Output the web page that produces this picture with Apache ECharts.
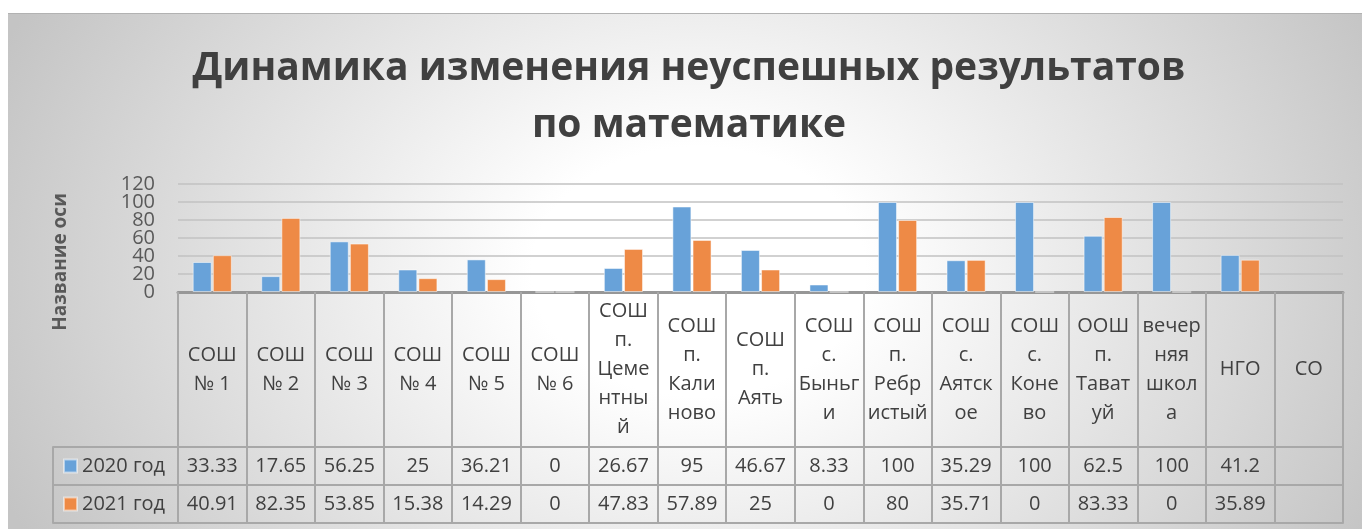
<!DOCTYPE html>
<html>
<head>
<meta charset="utf-8">
<script src="https://cdn.jsdelivr.net/npm/echarts@6/dist/echarts.min.js"></script>
<style>
  html, body { margin: 0; padding: 0; background: #ffffff; overflow: hidden; }
  #bg { position: absolute; left: 8px; top: 13px; width: 1354px; height: 516px;
        background: radial-gradient(ellipse 56% 110% at 51% 50%, #ffffff 0%, #ffffff 22%, #c4c4c4 100%);
        border-top: 1px solid #b2b2b2; box-sizing: border-box; }
  #chart { position: absolute; left: 0; top: 0; width: 1362px; height: 531px; }
</style>
</head>
<body>
<div id="bg"></div>
<div id="chart"></div>
<script>
const titleText = 'Динамика изменения неуспешных результатов\nпо математике';
const axisName = 'Название оси';
const seriesNames = ['2020 год', '2021 год'];
const categories = [
  'СОШ\n№ 1', 'СОШ\n№ 2', 'СОШ\n№ 3', 'СОШ\n№ 4', 'СОШ\n№ 5', 'СОШ\n№ 6',
  'СОШ\nп.\nЦеме\nнтны\nй', 'СОШ\nп.\nКали\nново', 'СОШ\nп.\nАять',
  'СОШ\nс.\nБыньг\nи', 'СОШ\nп.\nРебр\nистый', 'СОШ\nс.\nАятск\nое',
  'СОШ\nс.\nКоне\nво', 'ООШ\nп.\nТават\nуй', 'вечер\nняя\nшкол\nа', 'НГО', 'СО'
];
const values2020 = [33.33, 17.65, 56.25, 25, 36.21, 0, 26.67, 95, 46.67, 8.33, 100, 35.29, 100, 62.5, 100, 41.2, null];
const values2021 = [40.91, 82.35, 53.85, 15.38, 14.29, 0, 47.83, 57.89, 25, 0, 80, 35.71, 0, 83.33, 0, 35.89, null];
const yMin = 0, yMax = 120, yStep = 20;

const FONT = 'Open Sans';
const TEXT = '#404040';
const LINE = '#a8a8a8';
const BLUE = '#68a2d9';
const ORANGE = '#ee8a46';

// layout
const plotLeft = 178, plotRight = 19, plotTop = 184, plotBottomY = 292;
const headerH = 155, rowH = 38;
const legendColLeft = 53;

const fmt = v => (v === null || v === undefined) ? '' : String(v);
const yLabelStyle = { margin: 23, fontFamily: FONT, fontSize: 20, color: '#595959' };
const tableLine = { show: true, onZero: false, lineStyle: { color: LINE, width: 2 } };

const chart = echarts.init(document.getElementById('chart'), null, { renderer: 'canvas' });

chart.setOption({
  backgroundColor: 'transparent',
  animation: false,
  textStyle: { fontFamily: FONT },
  title: {
    text: titleText,
    left: 689,
    textAlign: 'center',
    top: 40,
    padding: 0,
    textStyle: { fontFamily: FONT, fontSize: 39, fontWeight: 'bold', color: TEXT, lineHeight: 57 }
  },
  legend: {
    orient: 'vertical',
    left: 63,
    top: plotBottomY + headerH + 9,
    padding: 0,
    itemWidth: 13,
    itemHeight: 13,
    itemGap: 18,
    icon: 'rect',
    selectedMode: false,
    data: seriesNames,
    textStyle: { fontFamily: FONT, fontSize: 20, color: TEXT, lineHeight: 20, padding: [0, 0, 0, 0] }
  },
  grid: [
    { left: plotLeft, right: plotRight, top: plotTop, height: plotBottomY - plotTop, containLabel: false },
    { left: legendColLeft, width: plotLeft - legendColLeft, top: plotBottomY + headerH, height: 2 * rowH, containLabel: false }
  ],
  xAxis: [
    {
      type: 'category', gridIndex: 0, data: categories, position: 'bottom',
      axisLine: { show: true, onZero: false, lineStyle: { color: '#979797', width: 3 } },
      axisTick: { show: true, interval: 0, length: headerH + 2 * rowH, lineStyle: { color: LINE, width: 2 } },
      axisLabel: { interval: 0, margin: headerH / 2, verticalAlign: 'middle', fontFamily: FONT, fontSize: 20, lineHeight: 29, color: TEXT, align: 'center' },
      splitLine: { show: false }
    },
    {
      type: 'category', gridIndex: 0, data: values2020.map(fmt), position: 'bottom', offset: headerH,
      axisLine: tableLine,
      axisTick: { show: false },
      axisLabel: { interval: 0, margin: rowH / 2, verticalAlign: 'middle', fontFamily: FONT, fontSize: 20, color: TEXT },
      splitLine: { show: false }
    },
    {
      type: 'category', gridIndex: 0, data: values2021.map(fmt), position: 'bottom', offset: headerH + rowH,
      axisLine: tableLine,
      axisTick: { show: false },
      axisLabel: { interval: 0, margin: rowH / 2, verticalAlign: 'middle', fontFamily: FONT, fontSize: 20, color: TEXT },
      splitLine: { show: false }
    },
    {
      type: 'category', gridIndex: 0, data: categories.map(() => ''), position: 'bottom', offset: headerH + 2 * rowH,
      axisLine: tableLine,
      axisTick: { show: false }, axisLabel: { show: false }, splitLine: { show: false }
    },
    { type: 'category', gridIndex: 1, data: [''], show: false }
  ],
  yAxis: [
    {
      // even-step labels (0, 40, 80, 120) and axis title
      type: 'value', gridIndex: 0, position: 'left', min: yMin, max: yMax, interval: yStep * 2,
      name: axisName, nameLocation: 'middle', nameRotate: 90, nameGap: 108,
      nameTextStyle: { fontFamily: FONT, fontSize: 19, fontWeight: 'bold', color: '#595959', padding: [0, 48, 0, 0] },
      axisLine: { show: false }, axisTick: { show: false },
      axisLabel: Object.assign({ showMinLabel: true, showMaxLabel: true }, yLabelStyle),
      splitLine: { show: false }
    },
    {
      type: 'value', gridIndex: 1, min: 0, max: 2, interval: 1,
      axisLine: { show: true, onZero: false, lineStyle: { color: LINE, width: 2 } },
      axisTick: { show: false }, axisLabel: { show: false },
      splitLine: { show: true, lineStyle: { color: LINE, width: 2 } }
    },
    {
      // gridlines every step and the in-between labels (20, 60, 100)
      type: 'value', gridIndex: 0, position: 'left', offset: 0, min: yMin, max: yMax, interval: yStep,
      axisLine: { show: false }, axisTick: { show: false },
      axisLabel: Object.assign({ showMinLabel: false, showMaxLabel: false,
        formatter: v => ((v - yMin) / yStep) % 2 === 1 ? String(v) : '' }, yLabelStyle),
      splitLine: { show: true, lineStyle: { color: '#c2c2c2', width: 1.5 } }
    }
  ],
  series: [
    {
      name: seriesNames[0], type: 'bar', xAxisIndex: 0, yAxisIndex: 0, data: values2020,
      barWidth: 19, barGap: '6%',
      itemStyle: { color: BLUE, borderColor: 'rgba(255,255,255,0.5)', borderWidth: 1 }
    },
    {
      name: seriesNames[1], type: 'bar', xAxisIndex: 0, yAxisIndex: 0, data: values2021,
      barWidth: 19, barGap: '6%',
      itemStyle: { color: ORANGE, borderColor: 'rgba(255,255,255,0.5)', borderWidth: 1 }
    }
  ]
});
</script>
</body>
</html>
